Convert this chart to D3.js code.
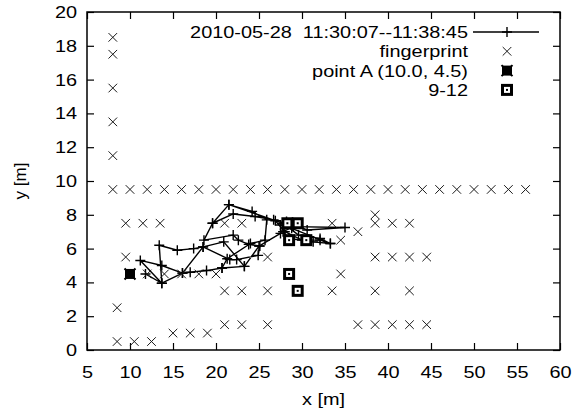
<!DOCTYPE html>
<html>
<head>
<meta charset="utf-8">
<script src="https://cdn.jsdelivr.net/npm/d3@7"></script>
<style>
  body { margin: 0; background: #fff; }
  svg { display: block; }
  text { font-family: "Liberation Sans", Arial, Helvetica, sans-serif; fill: #000; white-space: pre; }
</style>
</head>
<body>
<svg id="chart" width="576" height="415"></svg>
<script>
// ---- data ----
const xTicks = [5, 10, 15, 20, 25, 30, 35, 40, 45, 50, 55, 60];
const yTicks = [0, 2, 4, 6, 8, 10, 12, 14, 16, 18, 20];
const legendLabels = ["2010-05-28  11:30:07--11:38:45", "fingerprint", "point A (10.0, 4.5)", "9-12"];

// estimated track
const trajX = [11.8, 13.7, 11.2, 13.7, 16.1, 13.7, 13.4, 15.5, 17.4, 18.5, 20.9, 23.3, 20.7, 18.9, 17.0, 16.1,
               18.5, 21.6, 22.4, 24.9, 25.1, 23.8, 22.6, 22.0, 18.6, 19.6, 21.5, 24.2, 25.9, 25.7, 24.0, 21.3, 20.7,
               23.3, 25.0, 27.5, 28.2, 30.6, 35.0, 29.0, 27.8, 28.5, 31.3, 33.3, 32.1, 29.6, 27.8, 26.7, 24.55, 22.0, 19.6,
               21.5, 26.9, 28.0, 30.0, 32.1, 33.3, 28.8, 27.5];
const trajY = [4.5, 3.95, 5.3, 5.0, 4.55, 3.95, 6.2, 5.9, 6.0, 6.1, 6.4, 4.95, 4.85, 4.7, 4.6, 4.55,
               6.1, 5.35, 5.35, 5.6, 6.15, 6.25, 6.5, 6.8, 6.5, 7.5, 8.6, 8.2, 7.7, 6.5, 6.3, 5.4, 4.85,
               4.95, 6.15, 6.9, 7.6, 7.1, 7.25, 7.3, 7.0, 6.6, 6.4, 6.3, 6.6, 6.8, 7.5, 7.7, 7.9, 8.05, 7.5,
               8.6, 7.65, 7.0, 6.5, 6.5, 6.3, 7.2, 7.4];

// fingerprint positions
const fpX = [8, 8, 8, 8, 8,
             8, 10, 12, 14, 16, 18, 20, 22, 24, 26, 28, 30, 32, 34, 36, 38, 40, 42, 44, 46, 48, 50, 52, 54, 56,
             9.5, 11.5, 13.5, 21, 23, 33.5, 38.5, 40.5, 42.5,
             38.5, 36.5, 34.5,
             9.5, 26, 38.5, 40.5, 42.5, 44.5,
             12, 14, 16, 18, 20, 34.5,
             21, 23, 26, 33.5, 38.5, 42.5,
             8.5,
             21, 23, 26, 36.5, 38.5, 40.5, 42.5, 44.5,
             15, 17, 19,
             8.5, 10.5, 12.5];
const fpY = [18.5, 17.5, 15.5, 13.5, 11.5,
             9.5, 9.5, 9.5, 9.5, 9.5, 9.5, 9.5, 9.5, 9.5, 9.5, 9.5, 9.5, 9.5, 9.5, 9.5, 9.5, 9.5, 9.5, 9.5, 9.5, 9.5, 9.5, 9.5, 9.5, 9.5,
             7.5, 7.5, 7.5, 7.5, 7.5, 7.5, 7.5, 7.5, 7.5,
             8.0, 7.0, 6.5,
             5.5, 5.5, 5.5, 5.5, 5.5, 5.5,
             4.5, 4.5, 4.5, 4.5, 4.5, 4.5,
             3.5, 3.5, 3.5, 3.5, 3.5, 3.5,
             2.5,
             1.5, 1.5, 1.5, 1.5, 1.5, 1.5, 1.5, 1.5,
             1.0, 1.0, 1.0,
             0.5, 0.5, 0.5];

const pointAX = [10.0];
const pointAY = [4.5];

const markX = [28.3, 29.5, 28.5, 30.5, 28.5, 29.5];
const markY = [7.5, 7.5, 6.5, 6.5, 4.5, 3.5];

// ---- layout ----
const plot = { left: 87, right: 560, top: 12, bottom: 350 };
const FS = 17;         // font size
const SX = 1.17;       // horizontal glyph stretch

const svg = d3.select("#chart");
const x = d3.scaleLinear().domain([5, 60]).range([plot.left, plot.right]);
const y = d3.scaleLinear().domain([0, 20]).range([plot.bottom, plot.top]);

function stretch(sel) {
  sel.each(function () {
    const t = d3.select(this);
    const tx = +t.attr("x") || 0, ty = +t.attr("y") || 0;
    t.attr("transform", `translate(${tx},${ty}) scale(${SX},1) translate(${-tx},${-ty})`);
  });
}

// axes (ticks pointing inward on all four sides)
const tick = 7;
const gB = svg.append("g").attr("transform", `translate(0,${plot.bottom})`)
  .call(d3.axisBottom(x).tickValues(xTicks).tickSizeInner(-tick).tickSizeOuter(0).tickPadding(16));
const gL = svg.append("g").attr("transform", `translate(${plot.left},0)`)
  .call(d3.axisLeft(y).tickValues(yTicks).tickSizeInner(-tick).tickSizeOuter(0).tickPadding(10));
const gT = svg.append("g").attr("transform", `translate(0,${plot.top})`)
  .call(d3.axisTop(x).tickValues(xTicks).tickSizeInner(-tick).tickSizeOuter(0).tickFormat(""));
const gR = svg.append("g").attr("transform", `translate(${plot.right},0)`)
  .call(d3.axisRight(y).tickValues(yTicks).tickSizeInner(-tick).tickSizeOuter(0).tickFormat(""));
[gB, gL, gT, gR].forEach(g => {
  g.select(".domain").remove();
  g.selectAll(".tick line").attr("stroke", "#000").attr("stroke-width", 1.2);
  g.selectAll("text").attr("font-size", FS).attr("font-family", null).attr("fill", "#000");
});
gB.selectAll("text").call(stretch);
gL.selectAll("text").call(stretch);

// frame
svg.append("rect")
  .attr("x", plot.left).attr("y", plot.top)
  .attr("width", plot.right - plot.left).attr("height", plot.bottom - plot.top)
  .attr("fill", "none").attr("stroke", "#000").attr("stroke-width", 1.5);

// axis titles
svg.append("text").attr("x", (plot.left + plot.right) / 2).attr("y", 405)
  .attr("text-anchor", "middle").attr("font-size", FS).text("x [m]").call(stretch);
svg.append("text")
  .attr("transform", `translate(26,${(plot.top + plot.bottom) / 2}) rotate(-90)`)
  .attr("text-anchor", "middle").attr("font-size", FS).text("y [m]");

// marker helpers
const plusPath = s => `M${-s},0H${s}M0,${-s}V${s}`;
const crossPath = s => `M${-s},${-s}L${s},${s}M${-s},${s}L${s},${-s}`;

function drawPlus(g, px, py) {
  g.append("path").attr("transform", `translate(${px},${py})`).attr("d", plusPath(5))
    .attr("stroke", "#000").attr("stroke-width", 1.4).attr("fill", "none");
}
function drawCross(g, px, py) {
  g.append("path").attr("transform", `translate(${px},${py})`).attr("d", crossPath(4.3))
    .attr("stroke", "#1a1a1a").attr("stroke-width", 1).attr("fill", "none");
}
function drawPointA(g, px, py) {
  const gg = g.append("g").attr("transform", `translate(${px},${py})`);
  gg.append("rect").attr("x", -5).attr("y", -5).attr("width", 10).attr("height", 10).attr("fill", "#000");
  gg.append("path").attr("d", crossPath(5.5)).attr("stroke", "#000").attr("stroke-width", 2);
}
function drawMark(g, px, py) {
  const gg = g.append("g").attr("transform", `translate(${px},${py})`);
  gg.append("rect").attr("x", -6).attr("y", -6).attr("width", 12).attr("height", 12).attr("fill", "#000");
  gg.append("rect").attr("x", -3).attr("y", -3).attr("width", 6).attr("height", 6).attr("fill", "#fff");
  gg.append("rect").attr("x", -1).attr("y", -1).attr("width", 2).attr("height", 2).attr("fill", "#000");
}

const layer = svg.append("g");

// track
const track = trajX.map((v, i) => [v, trajY[i]]);
layer.append("path").datum(track)
  .attr("d", d3.line().x(d => x(d[0])).y(d => y(d[1])))
  .attr("fill", "none").attr("stroke", "#000").attr("stroke-width", 1.4).attr("stroke-linejoin", "round");
track.forEach(d => drawPlus(layer, x(d[0]), y(d[1])));

// fingerprints
fpX.forEach((v, i) => drawCross(layer, x(v), y(fpY[i])));

// point A
pointAX.forEach((v, i) => drawPointA(layer, x(v), y(pointAY[i])));

// 9-12
markX.forEach((v, i) => drawMark(layer, x(v), y(markY[i])));

// legend
const legTextX = 468, legMarkX = 507, legY0 = 32, legDy = 19.3;
legendLabels.forEach((lab, i) => {
  const yy = legY0 + i * legDy;
  svg.append("text").attr("x", legTextX).attr("y", yy).attr("dy", "0.35em")
    .attr("text-anchor", "end").attr("font-size", FS).text(lab).call(stretch);
  if (i === 0) {
    svg.append("line").attr("x1", 473).attr("x2", 539).attr("y1", yy).attr("y2", yy)
      .attr("stroke", "#000").attr("stroke-width", 1.4);
    drawPlus(svg, legMarkX, yy);
  } else if (i === 1) {
    drawCross(svg, legMarkX, yy);
  } else if (i === 2) {
    drawPointA(svg, legMarkX, yy);
  } else {
    drawMark(svg, legMarkX, yy);
  }
});
</script>
</body>
</html>
